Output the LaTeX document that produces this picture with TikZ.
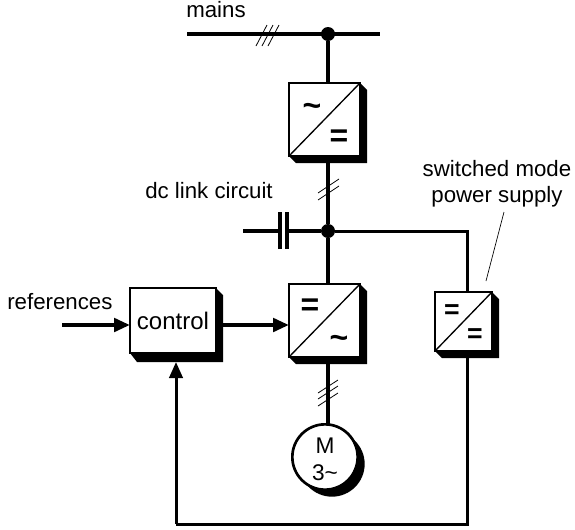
\documentclass[tikz,border=0pt]{standalone}
\usepackage{fontspec}
\setmainfont{Liberation Sans}
\usetikzlibrary{positioning,arrows.meta,shadows}
\tikzset{
  conv/.style={draw, fill=white, line width=1.4pt, inner sep=0pt, outer sep=0pt, minimum width=53.25pt, minimum height=54.75pt},
  smallconv/.style={conv, minimum width=42.75pt, minimum height=44.25pt},
  ctrlbox/.style={conv, minimum width=64.5pt, minimum height=48.75pt, font=\fontsize{18}{20}\selectfont},
  motorc/.style={circle, draw, fill=white, line width=2pt, inner sep=0pt, outer sep=0pt, minimum size=49pt,
    drop shadow={shadow xshift=5.25pt, shadow yshift=-5.25pt, fill=black, opacity=1}},
  motortxt/.style={inner sep=0pt, align=center, font=\fontsize{17}{20}\selectfont},
  dotn/.style={circle, fill=black, inner sep=0pt, minimum size=10.5pt},
  sym/.style={inner sep=0pt, font=\fontsize{24}{24}\selectfont\bfseries},
  smallsym/.style={inner sep=0pt, font=\fontsize{20}{20}\selectfont\bfseries},
  lbl/.style={inner sep=0pt, font=\fontsize{16.7}{19}\selectfont, align=center},
  bus/.style={line width=3.3pt},
  wire/.style={line width=2.25pt},
  sig/.style={line width=3pt, -{Triangle[length=12pt, width=10pt]}},
  hatch/.style={line width=0.6pt},
}
\newcommand{\boxshadow}[2][7]{%
  \fill (#2.north east) -- ++(7,7) -- ([shift={(7,#1)}]#2.south east) -- ([shift={(7,#1)}]#2.south west) -- (#2.south west) -- (#2.south east) -- cycle;
}
\begin{document}
\begin{tikzpicture}[x=0.75pt, y=-0.75pt]
      \useasboundingbox (0,0) rectangle (575,529);
      % Define nodes
      \node[conv] (conv1) at (324.5,119.5) {};
      \node[conv, below=96pt of conv1] (conv2) {};
      \node[ctrlbox] (control) at (173,320.5) {control};
      \node[smallconv] (smps) at (463.5,321.5) {};
      \node[motorc] (motor) at (325,457) {};
      \node[motortxt] (motorlbl) at ([yshift=-1.5pt]motor) {M\\3\textasciitilde};
      \node[dotn] (maindot) at (328,34) {};
      \node[dotn] (dcdot) at (328,231) {};
      \foreach \n in {conv1,conv2,smps} {
        \boxshadow{\n}
        \draw[line width=1pt] (\n.south west) -- (\n.north east);
      }
      \boxshadow[9]{control}
      % Converter signs
      \node[sym] (s1) at (312,110) {\textasciitilde};
      \node[sym] (s2) at (339,138) {=};
      \node[sym] (s3) at (310,307) {=};
      \node[sym] (s4) at (339,342) {\textasciitilde};
      \node[smallsym] (s5) at (452,312) {=};
      \node[smallsym] (s6) at (475,336) {=};
      % Labels
      \node[lbl, anchor=base west] (mainslbl) at (186,17) {mains};
      \node[lbl, anchor=base west] (dclbl) at (145,198) {dc link circuit};
      \node[lbl, anchor=base west] (reflbl) at (7,309) {references};
      \node[lbl, anchor=base] (smpslbl) at (497,176) {switched mode};
      \node[lbl, anchor=base] (smpslbl2) at (497,202) {power supply};
      % Free ends
      \coordinate (busL) at (187,34);
      \coordinate (busR) at (380,34);
      \coordinate (dcL) at (243,231);
      \coordinate (capA) at (280,231);
      \coordinate (capB) at (287,231);
      \coordinate (refin) at (62,325);
      \coordinate (smpstop) at (467,292);
      \coordinate (smpsbot) at (467,357);
      \coordinate (fbR) at (467,524);
      \coordinate (fbL) at (176,524);
      \coordinate (ctrlbot) at (176,362);
      \coordinate (leadA) at (504,212);
      \coordinate (leadB) at (486,281);
      % Connectors
      \draw[bus] (busL) -- (busR);
      \draw[bus] (maindot) -- (maindot |- conv1.north);
      \draw[bus] (dcdot |- conv1.south) -- (dcdot);
      \draw[bus] (dcdot) -- (dcdot |- conv2.north);
      \draw[bus] (dcdot |- conv2.south) -- (dcdot |- motor.north);
      \draw[bus] (dcL) -- (capA);
      \draw[bus] (capB) -- (dcdot);
      \draw[bus] ([yshift=-13.5pt]capA) -- ([yshift=14.5pt]capA);
      \draw[bus] ([yshift=-13.5pt]capB) -- ([yshift=14.5pt]capB);
      \draw[wire] (dcdot) -| (smpstop);
      \draw[wire] (smpsbot) -- (fbR) -- (fbL);
      \draw[sig, line width=2.25pt] (fbL) -- (ctrlbot);
      \draw[sig] (refin) -- (refin -| control.west);
      \draw[sig] (control.east |- refin) -- (refin -| conv2.west);
      \draw[line width=0.5pt] (leadA) -- (leadB);
      % Line count marks
      \foreach \dx in {0,6,12} \draw[hatch] (256+\dx,46) -- (267+\dx,25);
      \foreach \dy in {0,7} \draw[hatch] (318,193+\dy) -- (339,179+\dy);
      \foreach \dy in {0,6,13} \draw[hatch] (318,393+\dy) -- (338,380+\dy);
    \end{tikzpicture}
\end{document}
